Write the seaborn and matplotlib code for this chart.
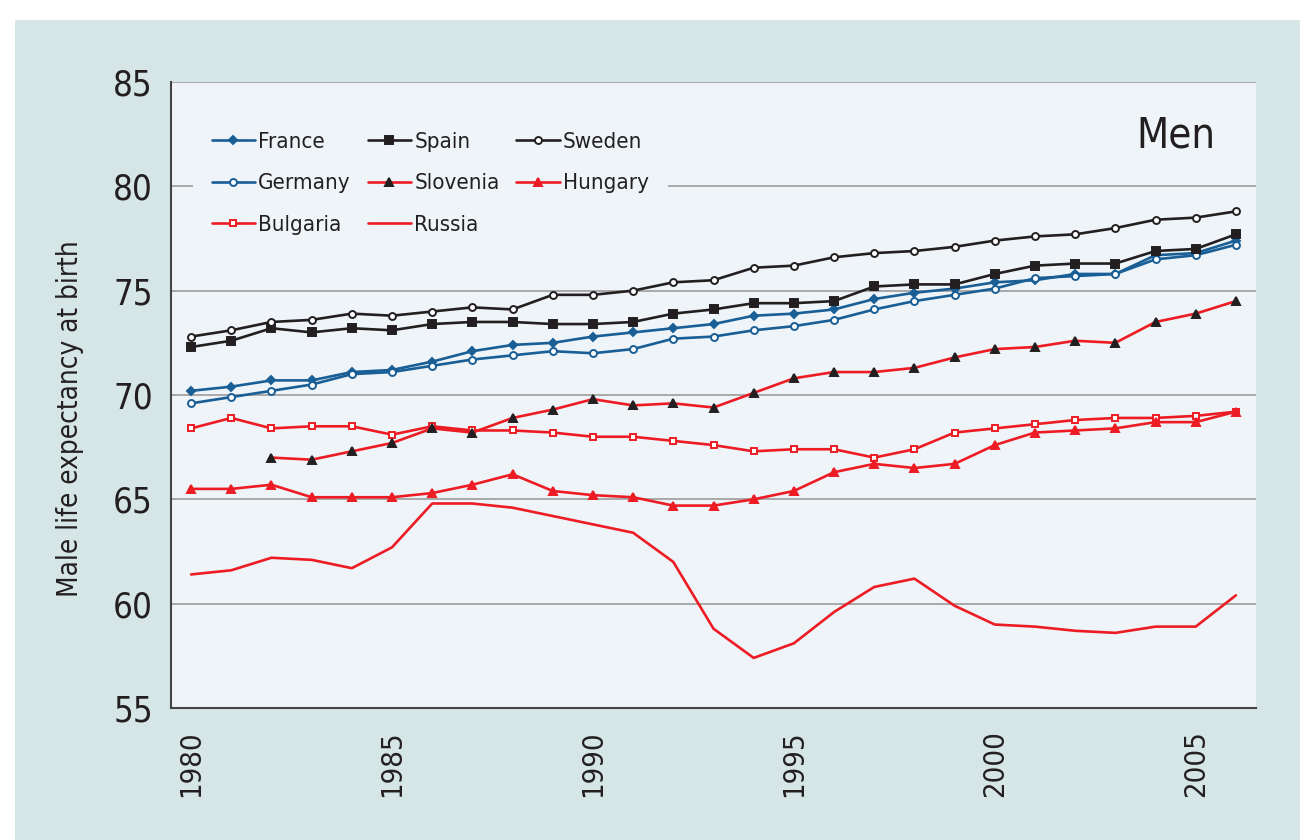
import numpy as np
import pandas as pd
import matplotlib
matplotlib.use('Agg')
import matplotlib.pyplot as plt
from matplotlib.patches import Rectangle
import seaborn as sns

#%% data (male life expectancy at birth)

years = list(range(1980, 2007))

france = [70.2, 70.4, 70.7, 70.7, 71.1, 71.2, 71.6, 72.1, 72.4, 72.5, 72.8, 73.0, 73.2, 73.4,
          73.8, 73.9, 74.1, 74.6, 74.9, 75.1, 75.4, 75.5, 75.8, 75.8, 76.7, 76.8, 77.4]
germany = [69.6, 69.9, 70.2, 70.5, 71.0, 71.1, 71.4, 71.7, 71.9, 72.1, 72.0, 72.2, 72.7, 72.8,
           73.1, 73.3, 73.6, 74.1, 74.5, 74.8, 75.1, 75.6, 75.7, 75.8, 76.5, 76.7, 77.2]
spain = [72.3, 72.6, 73.2, 73.0, 73.2, 73.1, 73.4, 73.5, 73.5, 73.4, 73.4, 73.5, 73.9, 74.1,
         74.4, 74.4, 74.5, 75.2, 75.3, 75.3, 75.8, 76.2, 76.3, 76.3, 76.9, 77.0, 77.7]
sweden = [72.8, 73.1, 73.5, 73.6, 73.9, 73.8, 74.0, 74.2, 74.1, 74.8, 74.8, 75.0, 75.4, 75.5,
          76.1, 76.2, 76.6, 76.8, 76.9, 77.1, 77.4, 77.6, 77.7, 78.0, 78.4, 78.5, 78.8]
slovenia = [np.nan, np.nan, 67.0, 66.9, 67.3, 67.7, 68.4, 68.2, 68.9, 69.3, 69.8, 69.5, 69.6, 69.4,
            70.1, 70.8, 71.1, 71.1, 71.3, 71.8, 72.2, 72.3, 72.6, 72.5, 73.5, 73.9, 74.5]
bulgaria = [68.4, 68.9, 68.4, 68.5, 68.5, 68.1, 68.5, 68.3, 68.3, 68.2, 68.0, 68.0, 67.8, 67.6,
            67.3, 67.4, 67.4, 67.0, 67.4, 68.2, 68.4, 68.6, 68.8, 68.9, 68.9, 69.0, 69.2]
hungary = [65.5, 65.5, 65.7, 65.1, 65.1, 65.1, 65.3, 65.7, 66.2, 65.4, 65.2, 65.1, 64.7, 64.7,
           65.0, 65.4, 66.3, 66.7, 66.5, 66.7, 67.6, 68.2, 68.3, 68.4, 68.7, 68.7, 69.2]
russia = [61.4, 61.6, 62.2, 62.1, 61.7, 62.7, 64.8, 64.8, 64.6, 64.2, 63.8, 63.4, 62.0, 58.8,
          57.4, 58.1, 59.6, 60.8, 61.2, 59.9, 59.0, 58.9, 58.7, 58.6, 58.9, 58.9, 60.4]

df = pd.DataFrame({'year': years, 'France': france, 'Germany': germany, 'Bulgaria': bulgaria,
                   'Spain': spain, 'Slovenia': slovenia, 'Russia': russia,
                   'Sweden': sweden, 'Hungary': hungary})

#%% styles

BLUE = '#1a5e96'
BLACK = '#231f20'
RED = '#ed1c24'

# name: (line colour, marker, marker face, marker edge, marker size)
styles = {
    'France':   (BLUE,  'D', BLUE,    BLUE,  4),
    'Germany':  (BLUE,  'o', 'white', BLUE,  5),
    'Bulgaria': (RED,   's', 'white', RED,   5),
    'Spain':    (BLACK, 's', BLACK,   BLACK, 5.5),
    'Slovenia': (RED,   '^', BLACK,   BLACK, 5.5),
    'Russia':   (RED,   None, RED,    RED,   0),
    'Sweden':   (BLACK, 'o', 'white', BLACK, 5),
    'Hungary':  (RED,   '^', RED,     RED,   5.5),
}

sns.set_style('white')
plt.rcParams['font.family'] = ['DejaVu Sans']
plt.rcParams['font.stretch'] = 'condensed'

fig = plt.figure(figsize=(13, 8.4), dpi=100)
fig.patches.append(Rectangle((15 / 1300, 0), 1, 1 - 20 / 840, transform=fig.transFigure,
                             facecolor='#d6e6e6', edgecolor='none', zorder=-10))
ax = fig.add_axes([171 / 1300, 132 / 840, 1085 / 1300, 626 / 840])
ax.set_facecolor('#eef4f7')

for name, (col, mk, mfc, mec, ms) in styles.items():
    sns.lineplot(data=df, x='year', y=name, ax=ax, color=col, linewidth=1.9,
                 marker=mk, markerfacecolor=mfc, markeredgecolor=mec, markersize=ms,
                 markeredgewidth=1.4, label=name, zorder=3)

#%% axes

ax.set_xlim(1979.5, 2006.5)
ax.set_ylim(55, 85)
ax.set_yticks(range(55, 90, 5))
for v in range(60, 90, 5):
    ax.axhline(v, color='#a3a3a3', linewidth=1.3, zorder=1)

ax.set_xticks(range(1980, 2006, 5))
ax.set_xticks(np.arange(1979.5, 2007, 1), minor=True)
ax.tick_params(axis='x', which='major', length=0, pad=16, labelsize=21, labelrotation=90,
               colors='#231f20')
ax.tick_params(axis='x', which='minor', length=7, width=1.2, direction='out', color='#555555')
ax.tick_params(axis='y', which='major', length=7, width=1.2, direction='out', color='#555555',
               labelsize=25, labelcolor='#231f20', pad=6)

ax.set_xlabel('')
ax.set_ylabel('Male life expectancy at birth', fontsize=20, color='#231f20')
ax.yaxis.set_label_coords(-0.08, 0.463)

sns.despine(ax=ax, top=True, right=True)
for s in ['left', 'bottom']:
    ax.spines[s].set_color('#444444')
    ax.spines[s].set_linewidth(1.5)

ax.text(0.963, 0.915, 'Men', transform=ax.transAxes, ha='right', va='center',
        fontsize=30, color='#231f20')

leg = ax.legend(loc='upper left', bbox_to_anchor=(0.02, 0.951), ncol=3, frameon=True,
                fontsize=16, handlelength=1.95, handletextpad=0.15, columnspacing=0.75,
                labelspacing=0.98, borderpad=0.85, borderaxespad=0)
leg.get_frame().set_facecolor('#eef4f7')
leg.get_frame().set_edgecolor('none')
leg.get_frame().set_alpha(1)
for t in leg.get_texts():
    t.set_color('#231f20')

fig.savefig('out.png', dpi=100, facecolor='white')
